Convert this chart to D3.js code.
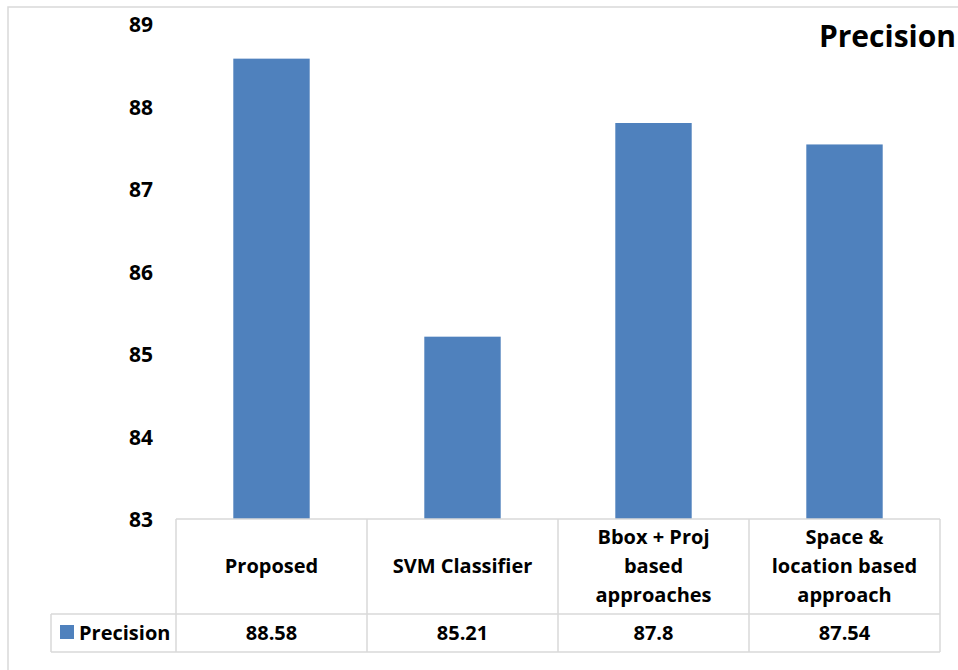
<!DOCTYPE html>
<html>
<head>
<meta charset="utf-8">
<script src="https://cdn.jsdelivr.net/npm/d3@7"></script>
<style>
  html, body { margin: 0; padding: 0; background: #fff; }
  svg { display: block; font-family: "Open Sans", "Noto Sans", sans-serif; font-weight: 700; }
</style>
</head>
<body>
<svg id="chart" width="958" height="670"></svg>
<script>
// Precision of each method (one series, shown as bars and in the data table)
const categories = [
  "Proposed",
  "SVM Classifier",
  "Bbox + Proj\nbased\napproaches",
  "Space &\nlocation based\napproach"
];
const seriesName = "Precision";
const precision = [88.58, 85.21, 87.8, 87.54];
const yTicks = [83, 84, 85, 86, 87, 88, 89];

const W = 958, H = 670;
const plot = { left: 176, right: 940, top: 24, bottom: 519 };
const table = { legendLeft: 51, catBottom: 614, valBottom: 652 };
const barColor = "#4F81BD";
const gridColor = "#d9d9d9";

const svg = d3.select("#chart");

// outer chart frame (runs past the right and bottom edges)
svg.append("rect")
  .attr("x", 8).attr("y", 7)
  .attr("width", W + 20).attr("height", H + 20)
  .attr("fill", "#fff")
  .attr("stroke", gridColor).attr("stroke-width", 1.5);

const x = d3.scaleBand()
  .domain(categories)
  .range([plot.left, plot.right])
  .paddingInner(0.6)
  .paddingOuter(0.3);

// column boundaries of the data table share the category step
const col = d3.scaleBand()
  .domain(categories)
  .range([plot.left, plot.right])
  .padding(0);

const y = d3.scaleLinear()
  .domain([yTicks[0], yTicks[yTicks.length - 1]])
  .range([plot.bottom, plot.top]);

// value axis: labels only, no line or tick marks
const yAxis = d3.axisLeft(y)
  .tickValues(yTicks)
  .tickFormat(d3.format("d"))
  .tickSize(0)
  .tickPadding(0);

const yg = svg.append("g")
  .attr("transform", `translate(${plot.left},0)`)
  .call(yAxis);
yg.select(".domain").remove();
yg.selectAll("text")
  .attr("x", -35)
  .attr("dy", "0.36em")
  .attr("text-anchor", "middle")
  .attr("font-size", 21)
  .attr("font-family", "\"Open Sans\", sans-serif")
  .attr("font-weight", 700)
  .attr("fill", "#000");

// bars
svg.append("g")
  .selectAll("rect")
  .data(categories)
  .join("rect")
  .attr("x", d => x(d))
  .attr("width", x.bandwidth())
  .attr("y", (d, i) => y(precision[i]))
  .attr("height", (d, i) => y(yTicks[0]) - y(precision[i]))
  .attr("fill", barColor);

// data table grid
const grid = svg.append("g")
  .attr("fill", "none")
  .attr("stroke", gridColor)
  .attr("stroke-width", 1.5);

// horizontal rules
grid.append("line")
  .attr("x1", plot.left).attr("x2", plot.right)
  .attr("y1", plot.bottom).attr("y2", plot.bottom);
grid.append("line")
  .attr("x1", table.legendLeft).attr("x2", plot.right)
  .attr("y1", table.catBottom).attr("y2", table.catBottom);
grid.append("line")
  .attr("x1", table.legendLeft).attr("x2", plot.right)
  .attr("y1", table.valBottom).attr("y2", table.valBottom);
// legend cell left edge
grid.append("line")
  .attr("x1", table.legendLeft).attr("x2", table.legendLeft)
  .attr("y1", table.catBottom).attr("y2", table.valBottom);
// column separators
const colEdges = categories.map(c => col(c)).concat([plot.right]);
grid.selectAll("line.col")
  .data(colEdges)
  .join("line")
  .attr("class", "col")
  .attr("x1", d => d).attr("x2", d => d)
  .attr("y1", plot.bottom).attr("y2", table.valBottom);

// category labels (multi-line, centred in each cell)
const catMid = (plot.bottom + table.catBottom) / 2;
const lineGap = 29;
svg.append("g")
  .selectAll("text")
  .data(categories)
  .join("text")
  .attr("text-anchor", "middle")
  .attr("font-size", 20)
  .attr("fill", "#000")
  .each(function (d) {
    const lines = d.split("\n");
    const cx = col(d) + col.bandwidth() / 2;
    d3.select(this).selectAll("tspan")
      .data(lines)
      .join("tspan")
      .attr("x", cx)
      .attr("y", (l, i) => catMid + 6.5 + (i - (lines.length - 1) / 2) * lineGap)
      .text(l => l);
  });

// value row
const valMid = (table.catBottom + table.valBottom) / 2;
svg.append("g")
  .selectAll("text")
  .data(precision)
  .join("text")
  .attr("x", (d, i) => col(categories[i]) + col.bandwidth() / 2)
  .attr("y", valMid + 6.5)
  .attr("text-anchor", "middle")
  .attr("font-size", 20)
  .attr("fill", "#000")
  .text(d => String(d));

// legend key inside the table
svg.append("rect")
  .attr("x", 60).attr("y", 625)
  .attr("width", 14).attr("height", 14)
  .attr("fill", barColor);
svg.append("text")
  .attr("x", 79).attr("y", valMid + 6.5)
  .attr("font-size", 20)
  .attr("fill", "#000")
  .text(seriesName);

// chart title, right-aligned against the edge
svg.append("text")
  .attr("x", 956).attr("y", 47)
  .attr("text-anchor", "end")
  .attr("font-size", 30)
  .attr("fill", "#000")
  .text(seriesName);
</script>
</body>
</html>
